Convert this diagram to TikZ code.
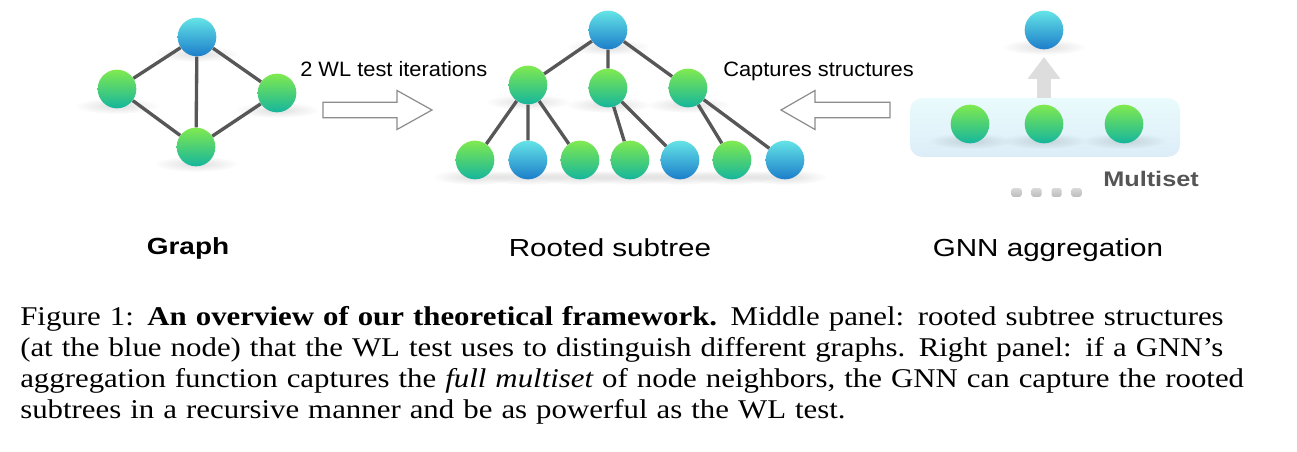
\documentclass[tikz,border=0pt]{standalone}
\usepackage{fontspec}
\setmainfont{Liberation Serif}[FakeStretch=1.14]
\newfontfamily\capitalic{Liberation Serif Italic}[FakeStretch=1.14]
\newfontfamily\labelfont[FakeStretch=1.2]{Liberation Sans}
\newfontfamily\arrowfont[FakeStretch=1.05]{Liberation Sans}
\usetikzlibrary{arrows.meta,fadings}

\definecolor{edgegray}{HTML}{575757}
\definecolor{greentop}{HTML}{80EA4F}
\definecolor{greenbot}{HTML}{15B59D}
\definecolor{bluetop}{HTML}{64E4E6}
\definecolor{bluebot}{HTML}{1C7DCA}
\definecolor{boxtop}{HTML}{EAFBFD}
\definecolor{boxbot}{HTML}{DCEDF8}
\definecolor{outlinegray}{HTML}{8C8C8C}
\definecolor{upgray}{HTML}{DDDDDD}
\definecolor{sqtop}{HTML}{D8D8D8}
\definecolor{sqbot}{HTML}{BDBDBD}
\definecolor{msgray}{HTML}{555555}

\tikzfading[name=softspot, inner color=transparent!0, outer color=transparent!100]

\pgfdeclarelayer{panel}
\pgfdeclarelayer{shade}
\pgfsetlayers{panel,shade,main}

\newlength{\capwidth}
\setlength{\capwidth}{942.75pt}

\begin{document}
\begin{tikzpicture}[
  x=0.75pt, y=-0.75pt,
  ball/.style={circle, minimum size=29pt, inner sep=0pt, draw=none},
  gball/.style={ball, top color=greentop, bottom color=greenbot},
  bball/.style={ball, top color=bluetop, bottom color=bluebot},
  link/.style={draw=edgegray, line width=2.5pt},
  hollow/.style={draw=outlinegray, line width=0.9pt, fill=white, line join=miter},
  shadowspot/.style={fill=black, opacity=0.13, path fading=softspot},
  panelbox/.style={rectangle, rounded corners=9pt, minimum width=202.5pt,
    minimum height=44pt, inner sep=0pt, top color=boxtop, bottom color=boxbot},
  liftarrow/.style={draw=upgray, line width=11pt,
    -{Triangle[width=23.5pt, length=16.5pt]}, shorten >=5.5pt},
  dotsq/.style={rectangle, rounded corners=1.5pt, minimum width=7.5pt,
    minimum height=6.4pt, inner sep=0pt, top color=sqtop, bottom color=sqbot},
  arrowlabel/.style={font=\arrowfont\fontsize{15.6pt}{18pt}\selectfont,
    anchor=base west, inner sep=0pt},
  panellabel/.style={font=\labelfont\fontsize{18.5pt}{22pt}\selectfont,
    anchor=base, inner sep=0pt},
  boldlabel/.style={font=\labelfont\bfseries\fontsize{17.5pt}{21pt}\selectfont,
    anchor=base, inner sep=0pt},
  captext/.style={font=\fontsize{20.3pt}{23.25pt}\selectfont, anchor=north west,
    inner sep=0pt, text width=\capwidth, align=left}
]
\useasboundingbox (0,0) rectangle (1297,452);
\begin{pgfonlayer}{panel}
  \fill[white] (0,0) rectangle (1297,452);
\end{pgfonlayer}

% ---- left panel: the graph ----
\node[bball] (g0) at (197,37) {};
\node[gball] (g1) at (117,89) {};
\node[gball] (g2) at (277,93) {};
\node[gball] (g3) at (196,147) {};
\draw[link] (g0) -- (g1) (g0) -- (g2) (g0) -- (g3) (g1) -- (g3) (g2) -- (g3);

% ---- middle panel: rooted subtree ----
\node[bball] (t0) at (608,30) {};
\node[gball] (t1) at (528,85) {};
\node[gball] (t2) at (608,88) {};
\node[gball] (t3) at (688,88) {};
\node[gball] (l1) at (475,160) {};
\node[bball] (l2) at (528,160) {};
\node[gball] (l3) at (580,160) {};
\node[gball] (l4) at (630,160) {};
\node[bball] (l5) at (680,160) {};
\node[gball] (l6) at (732,160) {};
\node[bball] (l7) at (785,160) {};
\draw[link] (t0) -- (t1) (t0) -- (t2) (t0) -- (t3);
\draw[link] (t1) -- (l1) (t1) -- (l2) (t1) -- (l3);
\draw[link] (t2) -- (l4) (t2) -- (l5);
\draw[link] (t3) -- (l6) (t3) -- (l7);

% ---- hollow arrows between panels ----
\draw[hollow] (323,102.2) -- (397,102.2) -- (397,90.5) -- (432,110)
  -- (397,129.5) -- (397,117.8) -- (323,117.8) -- cycle;
\draw[hollow] (890,102.2) -- (815,102.2) -- (815,90.5) -- (781,110)
  -- (815,129.5) -- (815,117.8) -- (890,117.8) -- cycle;
\node[arrowlabel] (lab1) at (300,77) {2 WL test iterations};
\node[arrowlabel] (lab2) at (723,77) {Captures structures};

% ---- right panel: GNN aggregation ----
\begin{pgfonlayer}{panel}
  \node[panelbox] (box) at (1045,127.5) {};
\end{pgfonlayer}
\node[gball] (a1) at (970,124) {};
\node[gball] (a2) at (1044,124) {};
\node[gball] (a3) at (1124,124) {};
\node[bball] (r0) at (1044,30) {};
\draw[liftarrow] (box.north -| r0) -- (r0);

\node[dotsq] (s1) at (1016.5,192.5) {};
\node[dotsq] (s2) at (1036.5,192.5) {};
\node[dotsq] (s3) at (1056.5,192.5) {};
\node[dotsq] (s4) at (1076.5,192.5) {};
\node[boldlabel, anchor=base west, text=msgray,
  font=\labelfont\bfseries\fontsize{15.8pt}{19pt}\selectfont] (ms) at (1103,187) {Multiset};

% soft shadows under every ball
\begin{pgfonlayer}{shade}
  \foreach \n in {g0,g1,g2,g3,t0,t1,t2,t3,l1,l2,l3,l4,l5,l6,l7,a1,a2,a3,r0}{
    \fill[shadowspot] ([yshift=2pt]\n.south) ellipse [x radius=32pt, y radius=6pt];
  }
\end{pgfonlayer}

% ---- panel titles ----
\node[boldlabel] (p1) at (188,255) {Graph};
\node[panellabel] (p2) at (610,256.5) {Rooted subtree};
\node[panellabel] (p3) at (1048,256.5) {GNN aggregation};

% ---- caption ----
\node[captext] (cap) at (20,306) {%
\makebox[\capwidth][s]{Figure 1: \textbf{An overview of our theoretical framework.} Middle panel: rooted subtree structures}\\
\makebox[\capwidth][s]{(at the blue node) that the WL test uses to distinguish different graphs. Right panel: if a GNN’s}\\
\makebox[\capwidth][s]{aggregation function captures the {\capitalic full multiset} of node neighbors, the GNN can capture the rooted}\\
subtrees in a recursive manner and be as powerful as the WL test.};
\end{tikzpicture}
\end{document}
